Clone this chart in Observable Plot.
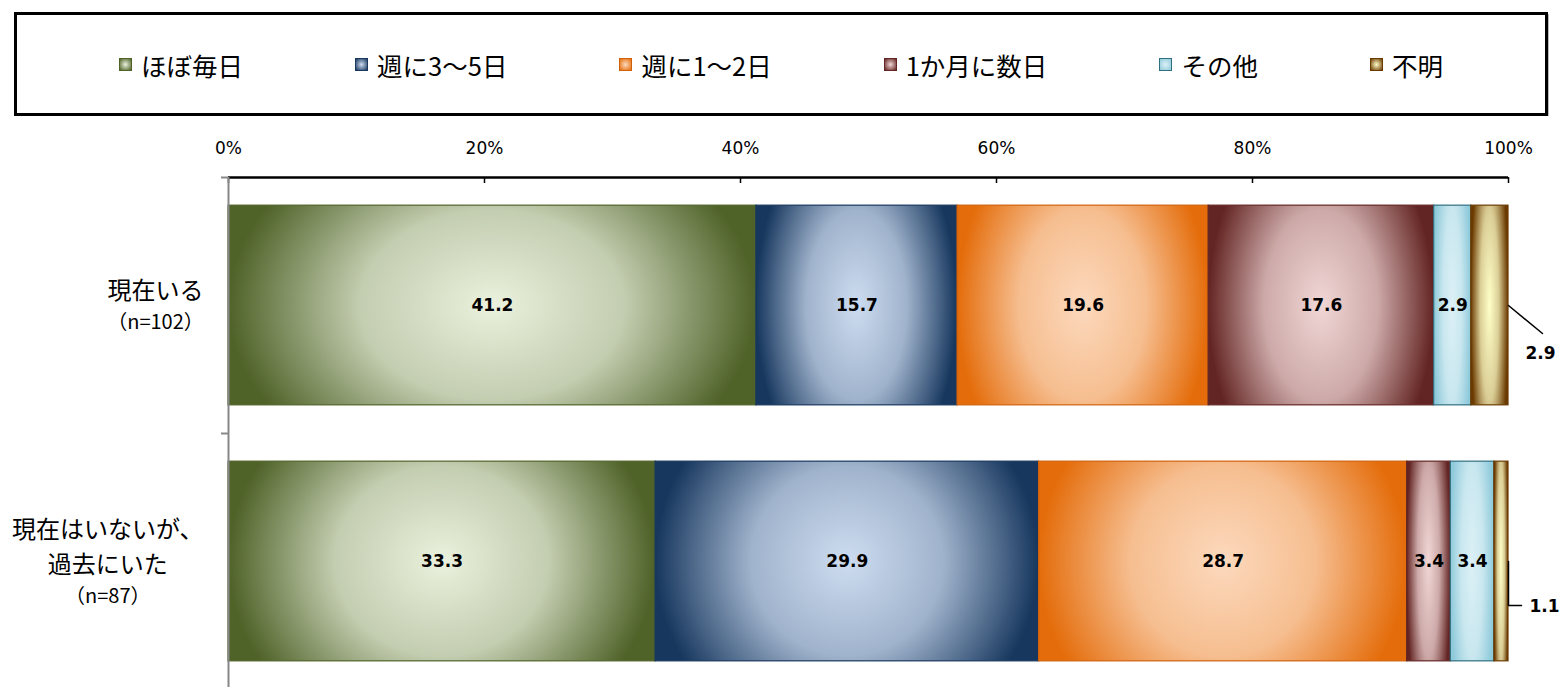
<!DOCTYPE html>
<html><head><meta charset="utf-8">
<script src="https://cdn.jsdelivr.net/npm/d3@7"></script>
<script src="https://cdn.jsdelivr.net/npm/@observablehq/plot@0.6"></script>
<style>
body{margin:0;background:#fff;width:1562px;height:687px;overflow:hidden;position:relative;}
#legend{position:absolute;left:14px;top:12px;width:1534px;height:104px;box-sizing:border-box;border:3px solid #000;box-shadow:1px 2px 0 #bbb;display:flex;align-items:center;justify-content:center;gap:112px;font-family:"Noto Sans CJK JP",sans-serif;font-size:25.5px;color:#000;}
.item{display:flex;align-items:center;white-space:nowrap;}
.sw{width:11px;height:11px;margin-right:9px;border:1px solid;}
#chart{position:absolute;left:0;top:116px;}
</style></head><body>
<div id="legend"></div><div id="chart"></div>
<script>
const categories = ["現在いる", "現在はいないが、\n過去にいた"];
const sampleSizes = ["（n=102）", "（n=87）"];
const series = ["ほぼ毎日", "週に3～5日", "週に1～2日", "1か月に数日", "その他", "不明"];
const valuesNow = [41.2, 15.7, 19.6, 17.6, 2.9, 2.9];
const valuesPast = [33.3, 29.9, 28.7, 3.4, 3.4, 1.1];
const xTicks = [0, 0.2, 0.4, 0.6, 0.8, 1];
const edgeColors = ["#4f6228", "#17375e", "#e46c0a", "#632523", "#8fcadb", "#6b3a00"];
const centerColors = ["#eaf1dd", "#cddcf0", "#fcd9bd", "#f0d6d5", "#dcf0f6", "#ffffc8"];
const strokeColors = ["#4f6228", "#17375e", "#d0600a", "#632523", "#2f6f80", "#6b3a00"];

const rowsValues = [valuesNow, valuesPast];
const table = [];
rowsValues.forEach((vals, r) => {
  const total = d3.sum(vals);
  let acc = 0;
  vals.forEach((v, s) => {
    const x1 = acc / total; acc += v; const x2 = acc / total;
    table.push({row: r, s, value: v, x1, x2});
  });
});
const HALF = 0.39;
const PX_X = 1 / 1280, PX_Y = 1 / 256;
const lastS = series.length - 1;
const inside = table.filter(d => d.s !== lastS);
const outside = table.filter(d => d.s === lastS);

// leader-line shapes for outside labels (pixel offsets from bar end)
const leaderShapes = [
  {pts: [[0, 0], [34, 28]], label: [32, 48]},
  {pts: [[0, 0], [0, 44], [13, 44]], label: [36, 45]}
];
const leaderPts = [];
outside.forEach(d => {
  leaderShapes[d.row].pts.forEach(([px, py]) => leaderPts.push({row: d.row, x: d.x2 + px * PX_X, y: d.row + py * PX_Y}));
});

const ctx = document.createElement("canvas").getContext("2d");
function w(t, size) { ctx.font = `${size}px "Noto Sans CJK JP"`; return ctx.measureText(t).width; }

const catFont = 24, nFont = 20, lineH = 35;
const catMarks = [];
categories.forEach((c, r) => {
  const lines = c.split("\n");
  const width = Math.max(...lines.map(l => w(l, catFont)));
  const center = 203 - width / 2;
  const dx = center - 228;
  catMarks.push(Plot.text([r], {x: 0, y: d => d, text: () => c, dx, dy: -lineH / 2, fontSize: catFont, lineHeight: lineH / catFont, textAnchor: "middle", fill: "#000"}));
  catMarks.push(Plot.text([r], {x: 0, y: d => d, text: () => sampleSizes[r], dx, dy: lines.length * lineH / 2, fontSize: nFont, textAnchor: "middle", fill: "#000"}));
});

const chart = Plot.plot({
  width: 1562, height: 571,
  marginTop: 61, marginBottom: 0, marginLeft: 228, marginRight: 54,
  style: {fontFamily: '"Noto Sans CJK JP", sans-serif', background: "#fff", overflow: "visible"},
  x: {domain: [0, 1], axis: null},
  y: {domain: [-0.5, 1.5], range: [61, 573], axis: null},
  marks: [
    Plot.rect(table, {x1: "x1", x2: "x2", y1: d => d.row - HALF, y2: d => d.row + HALF, fill: d => `url(#grad${d.s})`, stroke: d => strokeColors[d.s], strokeWidth: 1.2}),
    Plot.text(inside, {x: d => (d.x1 + d.x2) / 2, y: "row", text: d => d.value.toFixed(1), fontSize: 17, fontWeight: "bold", fontFamily: "DejaVu Sans", fill: "#000"}),
    Plot.line(leaderPts, {x: "x", y: "y", z: "row", stroke: "#000", strokeWidth: 1.5}),
    Plot.text(outside, {x: d => d.x2 + leaderShapes[d.row].label[0] * PX_X, y: d => d.row + leaderShapes[d.row].label[1] * PX_Y, text: d => d.value.toFixed(1), fontSize: 17, fontWeight: "bold", fontFamily: "DejaVu Sans", fill: "#000"}),
    Plot.ruleY([-0.5], {x1: 0, x2: 1, stroke: "#000", strokeWidth: 2.5}),
    Plot.ruleX(xTicks, {x: d => d, y1: -0.5, y2: -0.5 + 6 * PX_Y, stroke: "#000", strokeWidth: 1.5}),
    Plot.ruleX([0], {y1: -0.5, y2: 1.5, stroke: "#888", strokeWidth: 2}),
    Plot.ruleY([-0.5, 0.5], {x1: -7 * PX_X, x2: 0, stroke: "#888", strokeWidth: 2}),
    Plot.axisX(xTicks, {anchor: "top", tickSize: 0, tickPadding: 24, tickFormat: d3.format(".0%"), fontSize: 17, fontFamily: "DejaVu Sans", fill: "#000"}),
    ...catMarks
  ]
});

const defs = d3.select(chart).insert("defs", ":first-child");
series.forEach((_, s) => {
  const g = defs.append("radialGradient").attr("id", `grad${s}`)
    .attr("cx", 0.5).attr("cy", 0.5).attr("r", 0.5)
    .attr("gradientTransform", "translate(0.5,0.5) scale(1,1.9) translate(-0.5,-0.5)");
  const mid = d3.interpolateRgb(centerColors[s], edgeColors[s])(0.25);
  g.append("stop").attr("offset", 0).attr("stop-color", centerColors[s]);
  g.append("stop").attr("offset", 0.5).attr("stop-color", mid);
  g.append("stop").attr("offset", 1).attr("stop-color", edgeColors[s]);
});
document.getElementById("chart").appendChild(chart);

const legend = d3.select("#legend");
const items = legend.selectAll(".item").data(series).join("div").attr("class", "item");
items.append("div").attr("class", "sw")
  .style("border-color", (d, i) => strokeColors[i])
  .style("background", (d, i) => `radial-gradient(circle, ${centerColors[i]} 0%, ${edgeColors[i]} 100%)`);
items.append("span").text(d => d);
</script>
</body></html>
